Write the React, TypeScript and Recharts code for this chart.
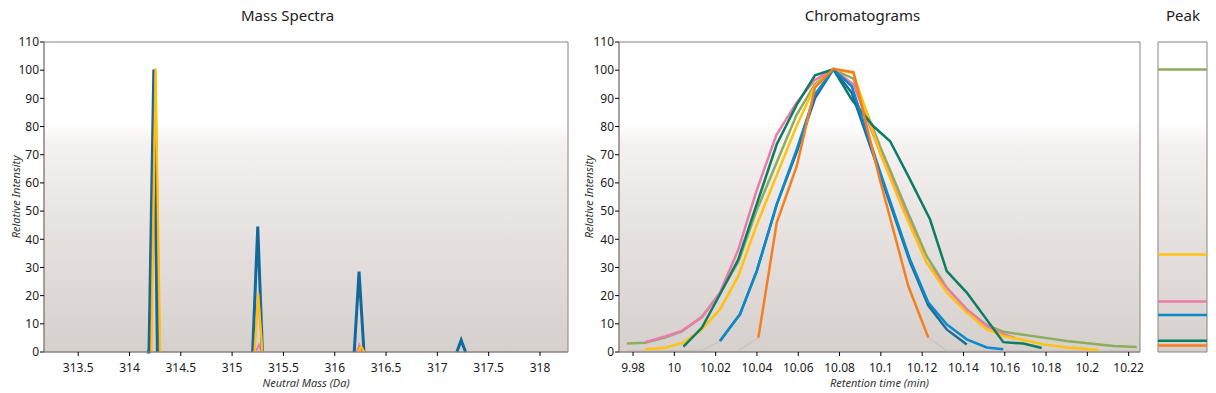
import { LineChart, Line, XAxis, YAxis, CartesianGrid, ReferenceArea } from "recharts";

type Pt = [number, number];

// ---- Mass spectra: one array per peak (Da, relative intensity) ----
const specBluePeaks: Pt[][] = [
  [[314.17, 0], [314.19, 0], [314.237, 100.2], [314.272, 0]],
  [[315.2, 0], [315.25, 44.5], [315.295, 0]],
  [[316.19, 0], [316.237, 28.5], [316.285, 0]],
  [[317.19, 0], [317.232, 4.2], [317.275, 0]],
];
const specGreenPeaks: Pt[][] = [[[314.2, 0], [314.245, 100.2], [314.29, 0]]];
const specPinkPeaks: Pt[][] = [
  [[315.23, 0], [315.262, 2.5], [315.29, 0]],
  [[316.215, 0], [316.24, 2.5], [316.265, 0]],
];
const specOrangePeaks: Pt[][] = [
  [[314.21, 0], [314.252, 100.5], [314.295, 0]],
  [[315.215, 0], [315.255, 20], [315.295, 0]],
  [[316.22, 0], [316.25, 1.5], [316.28, 0]],
];
const specYellowPeaks: Pt[][] = [
  [[314.215, 0], [314.255, 100.5], [314.3, 0]],
  [[315.22, 0], [315.255, 21], [315.295, 0]],
  [[316.225, 0], [316.258, 2], [316.29, 0]],
];

// ---- Chromatograms (retention time min, relative intensity) ----
const chromOlive: Pt[] = [
  [9.977, 3.0], [9.9858, 3.3], [9.9955, 5.1], [10.0036, 7.3], [10.0133, 12.5], [10.0221, 20.8],
  [10.031, 32], [10.0397, 50], [10.0494, 67], [10.0591, 84], [10.068, 95], [10.077, 100.3],
  [10.0867, 97], [10.0996, 73], [10.1122, 51], [10.1222, 34], [10.1319, 22.8], [10.1416, 15.1],
  [10.1513, 9.5], [10.1593, 7.2], [10.1674, 6.3], [10.1787, 5.1], [10.19, 3.9], [10.2013, 3.0],
  [10.2126, 2.1], [10.2239, 1.8],
];
const chromPink: Pt[] = [
  [9.9858, 3.5], [9.9955, 5.5], [10.0036, 7.5], [10.0133, 12.2], [10.0221, 21.1], [10.031, 36.4],
  [10.0397, 57], [10.0494, 77], [10.0591, 88.4], [10.068, 96.5], [10.077, 100.3], [10.0867, 95],
  [10.0996, 71], [10.1122, 49], [10.1222, 31.7], [10.1319, 22.8], [10.1416, 15.1], [10.1513, 9.2],
  [10.1593, 6.3], [10.165, 5],
];
const chromYellow: Pt[] = [
  [9.9858, 1.0], [9.9955, 1.5], [10.0044, 3.3], [10.0133, 8.0], [10.0221, 15.1], [10.031, 27.0],
  [10.0397, 44.7], [10.0494, 62.4], [10.0591, 80], [10.068, 94.3], [10.077, 100.3], [10.0867, 99],
  [10.0996, 70.7], [10.111, 50], [10.1222, 31.7], [10.1319, 21.1], [10.1416, 14], [10.1513, 8],
  [10.1593, 5.7], [10.1674, 4.5], [10.1787, 2.7], [10.19, 1.6], [10.2053, 0.7],
];
const chromGreen: Pt[] = [
  [10.0044, 1.9], [10.0133, 8.6], [10.0221, 20.5], [10.031, 32.9], [10.0397, 52], [10.0496, 73.7],
  [10.0593, 87.8], [10.0681, 98.2], [10.077, 100.3], [10.0859, 89.6], [10.0964, 80.1],
  [10.1045, 74.8], [10.1133, 62.4], [10.1238, 47.1], [10.1319, 28.7], [10.1416, 21.1],
  [10.1593, 3.5], [10.169, 3.0], [10.1779, 1.4],
];
const chromDarkBlue: Pt[] = [
  [10.0221, 3.9], [10.0318, 13.4], [10.0399, 28.7], [10.0496, 52.4], [10.0593, 71], [10.0681, 90],
  [10.077, 100.3], [10.0859, 92], [10.0996, 63], [10.1141, 32], [10.123, 16.5], [10.1319, 8],
  [10.1416, 2.7],
];
const chromBlue: Pt[] = [
  [10.0221, 3.9], [10.0318, 13.4], [10.0399, 28.7], [10.0496, 52.4], [10.0593, 72], [10.0681, 91.4],
  [10.077, 100.3], [10.0859, 94.3], [10.0996, 64], [10.1141, 32.9], [10.123, 17.5], [10.1319, 9.8],
  [10.1416, 4.5], [10.1513, 1.6], [10.1593, 1.0],
];
const chromOrange: Pt[] = [
  [10.0407, 5.1], [10.0496, 45.9], [10.0593, 66], [10.0681, 93.8], [10.077, 100.5], [10.0867, 99.3],
  [10.0996, 61], [10.1133, 23.4], [10.123, 5.1],
];
// faint grey baselines
const chromGrey: Pt[][] = [
  [[9.977, 0.5], [10.0133, 0.5], [10.0221, 3.9]],
  [[10.031, 0.5], [10.0407, 5.1]],
  [[10.123, 5.1], [10.132, 0.4], [10.224, 0.4]],
];

// ---- Peak panel heights ----
const peakNames = ["olive", "yellow", "pink", "blue", "green", "orange"];
const peakHeights = [100.2, 34.6, 17.9, 13.1, 4.0, 2.3];

const massTicks = [313.5, 314, 314.5, 315, 315.5, 316, 316.5, 317, 317.5, 318];
const rtTicks = [9.98, 10, 10.02, 10.04, 10.06, 10.08, 10.1, 10.12, 10.14, 10.16, 10.18, 10.2, 10.22];
const intensityTicks = [0, 10, 20, 30, 40, 50, 60, 70, 80, 90, 100, 110];

const COLORS: Record<string, string> = {
  olive: "#8cad5c",
  yellow: "#ffc20e",
  pink: "#ec7bab",
  blue: "#0b89c9",
  darkBlue: "#1f6c9a",
  steel: "#12679c",
  green: "#0b7d62",
  orange: "#f47f21",
  grey: "#c9c1be",
};

const FONT = "'Segoe UI', 'Noto Sans', sans-serif";
const BORDER = "#8c8280";
const MASS_DOMAIN: [number, number] = [313.167, 318.273];
const RT_DOMAIN: [number, number] = [9.9732, 10.2255];

const rows = (pts: Pt[]) => pts.map(([x, y]) => ({ x, y }));

const tickStyle = { fontSize: 12, fill: "#1a1a1a", fontFamily: FONT };
const axisLabelStyle = { fontSize: 11, fontStyle: "italic", fill: "#333", fontFamily: FONT };

function Bg({ id }: { id: string }) {
  return (
    <defs>
      <linearGradient id={id} x1="0" y1="0" x2="0" y2="1">
        <stop offset="0" stopColor="#ffffff" />
        <stop offset="0.26" stopColor="#ffffff" />
        <stop offset="0.33" stopColor="#f4f1f0" />
        <stop offset="0.65" stopColor="#e5e0de" />
        <stop offset="1" stopColor="#d6d0cd" />
      </linearGradient>
    </defs>
  );
}

const trimNum = (v: number) => String(Number(v.toFixed(2)));

function yAxis(labelOffset: number) {
  return (
    <YAxis
      type="number"
      domain={[0, 110]}
      ticks={intensityTicks}
      interval={0}
      width={44}
      tick={tickStyle}
      tickSize={4}
      tickMargin={1}
      tickLine={{ stroke: "#000" }}
      axisLine={{ stroke: BORDER }}
      label={{
        value: "Relative Intensity",
        angle: -90,
        position: "insideLeft",
        offset: labelOffset,
        style: { ...axisLabelStyle, textAnchor: "middle" },
      }}
    />
  );
}

function Title({ text, left, width }: { text: string; left: number; width: number }) {
  return (
    <div
      style={{
        position: "absolute",
        left,
        top: 5,
        width,
        height: 20,
        lineHeight: "20px",
        textAlign: "center",
        fontFamily: FONT,
        fontSize: 15,
        color: "#222",
      }}
    >
      {text}
    </div>
  );
}

export default function App() {
  const lineProps = { dataKey: "y", dot: false, activeDot: false, isAnimationActive: false, type: "linear" as const };

  return (
    <div style={{ position: "absolute", left: 0, top: 0, width: 1216, height: 393, background: "#fff" }}>
      <Title text="Mass Spectra" left={0} width={575} />
      <Title text="Chromatograms" left={575} width={575} />
      <Title text="Peak" left={1150} width={66} />

      {/* Mass spectra */}
      <div style={{ position: "absolute", left: 0, top: 0 }}>
        <LineChart width={575} height={393} margin={{ top: 42, right: 7, bottom: 0, left: 0 }}>
          <Bg id="bgMass" />
          <CartesianGrid horizontal={false} vertical={false} fill="url(#bgMass)" />
          <XAxis
            dataKey="x"
            type="number"
            domain={MASS_DOMAIN}
            allowDataOverflow
            ticks={massTicks}
            interval={0}
            height={41}
            tick={tickStyle}
            tickSize={4}
            tickMargin={7}
            tickLine={{ stroke: "#000" }}
            axisLine={{ stroke: BORDER }}
            tickFormatter={trimNum}
            label={{ value: "Neutral Mass (Da)", position: "insideBottom", offset: 6, style: axisLabelStyle }}
          />
          {yAxis(16)}
          <ReferenceArea x1={MASS_DOMAIN[0]} x2={MASS_DOMAIN[1]} y1={0} y2={110} fill="none" stroke={BORDER} />
          {specGreenPeaks.map((p, i) => (
            <Line key={`g${i}`} {...lineProps} data={rows(p)} stroke={COLORS.green} strokeWidth={2} />
          ))}
          {specPinkPeaks.map((p, i) => (
            <Line key={`p${i}`} {...lineProps} data={rows(p)} stroke={COLORS.pink} strokeWidth={2} />
          ))}
          {specBluePeaks.map((p, i) => (
            <Line key={`b${i}`} {...lineProps} data={rows(p)} stroke={COLORS.steel} strokeWidth={3} />
          ))}
          {specOrangePeaks.map((p, i) => (
            <Line key={`o${i}`} {...lineProps} data={rows(p)} stroke={COLORS.orange} strokeWidth={2} />
          ))}
          {specYellowPeaks.map((p, i) => (
            <Line key={`y${i}`} {...lineProps} data={rows(p)} stroke={COLORS.yellow} strokeWidth={2} />
          ))}
        </LineChart>
      </div>

      {/* Chromatograms */}
      <div style={{ position: "absolute", left: 575, top: 0 }}>
        <LineChart width={575} height={393} margin={{ top: 42, right: 10, bottom: 0, left: 0 }}>
          <Bg id="bgChrom" />
          <CartesianGrid horizontal={false} vertical={false} fill="url(#bgChrom)" />
          <XAxis
            dataKey="x"
            type="number"
            domain={RT_DOMAIN}
            allowDataOverflow
            ticks={rtTicks}
            interval={0}
            height={41}
            tick={tickStyle}
            tickSize={4}
            tickMargin={7}
            tickLine={{ stroke: "#000" }}
            axisLine={{ stroke: BORDER }}
            tickFormatter={trimNum}
            label={{ value: "Retention time (min)", position: "insideBottom", offset: 6, style: axisLabelStyle }}
          />
          {yAxis(14)}
          <ReferenceArea x1={RT_DOMAIN[0]} x2={RT_DOMAIN[1]} y1={0} y2={110} fill="none" stroke={BORDER} />
          {chromGrey.map((p, i) => (
            <Line key={`gr${i}`} {...lineProps} data={rows(p)} stroke={COLORS.grey} strokeWidth={1.2} />
          ))}
          <Line {...lineProps} data={rows(chromOlive)} stroke={COLORS.olive} strokeWidth={2.5} />
          <Line {...lineProps} data={rows(chromPink)} stroke={COLORS.pink} strokeWidth={2.5} />
          <Line {...lineProps} data={rows(chromYellow)} stroke={COLORS.yellow} strokeWidth={2.5} />
          <Line {...lineProps} data={rows(chromGreen)} stroke={COLORS.green} strokeWidth={2.5} />
          <Line {...lineProps} data={rows(chromDarkBlue)} stroke={COLORS.darkBlue} strokeWidth={2.5} />
          <Line {...lineProps} data={rows(chromBlue)} stroke={COLORS.blue} strokeWidth={2.5} />
          <Line {...lineProps} data={rows(chromOrange)} stroke={COLORS.orange} strokeWidth={2.5} />
        </LineChart>
      </div>

      {/* Peak panel */}
      <div style={{ position: "absolute", left: 1150, top: 0 }}>
        <LineChart width={66} height={393} margin={{ top: 42, right: 9, bottom: 41, left: 8 }}>
          <Bg id="bgPeak" />
          <CartesianGrid horizontal={false} vertical={false} fill="url(#bgPeak)" />
          <XAxis dataKey="x" type="number" domain={[0, 1]} hide />
          <YAxis type="number" domain={[0, 110]} hide />
          <ReferenceArea x1={0} x2={1} y1={0} y2={110} fill="none" stroke={BORDER} />
          {peakHeights.map((h, i) => (
            <Line
              key={peakNames[i]}
              {...lineProps}
              data={rows([[0, h], [1, h]])}
              stroke={COLORS[peakNames[i]]}
              strokeWidth={2.5}
            />
          ))}
        </LineChart>
      </div>
    </div>
  );
}
